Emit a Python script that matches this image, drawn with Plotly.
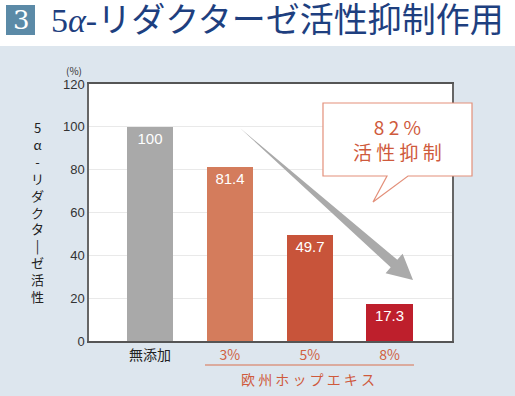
import plotly.graph_objects as go

categories = ["無添加", "3%", "5%", "8%"]
values = [100, 81.4, 49.7, 17.3]
value_labels = ["100", "81.4", "49.7", "17.3"]
bar_colors = ["#a9a9a9", "#d47c5c", "#c8543a", "#be1f2c"]
tick_colors = ["#222222", "#d0603f", "#d0603f", "#d0603f"]
y_ticks = [0, 20, 40, 60, 80, 100, 120]

W, H = 515, 396
ML, MR, MT, MB = 89, 63, 84, 55
PW, PH = W - ML - MR, H - MT - MB

def px(x):
    return (x - ML) / PW

def py(y):
    return (H - MB - y) / PH

BG = "#dde6ee"
ACC = "#cf5a3c"

xpos = list(range(len(categories)))
ticktext = [f"<span style='color:{c}'>{t}</span>" for t, c in zip(categories, tick_colors)]

fig = go.Figure()
fig.add_trace(go.Bar(
    x=xpos, y=values, width=0.58,
    marker=dict(color=bar_colors, line=dict(width=0)),
    text=value_labels, textposition="inside", insidetextanchor="end",
    textfont=dict(color="white", size=15, family="Liberation Sans, Noto Sans"),
    cliponaxis=False, hoverinfo="skip",
))

shapes = []
shapes.append(dict(type="rect", xref="paper", yref="paper", x0=px(0), x1=px(W), y0=py(46), y1=py(0),
                   fillcolor="white", line=dict(width=0), layer="below"))
shapes.append(dict(type="rect", xref="paper", yref="paper", x0=px(6), x1=px(35), y0=py(35), y1=py(5),
                   fillcolor="#5b8aa7", line=dict(width=0)))
pts = [(240, 128), (390.7, 267.3), (385.6, 273.3), (413, 280), (402.6, 253.7), (397.3, 259.8)]
path = "M " + " L ".join(f"{px(a):.4f},{py(b):.4f}" for a, b in pts) + " Z"
shapes.append(dict(type="path", xref="paper", yref="paper", path=path,
                   fillcolor="#aaaaaa", line=dict(width=0)))
cpts = [(323, 103), (472, 103), (472, 176), (408, 176), (373, 202), (387, 176), (323, 176)]
cpath = "M " + " L ".join(f"{px(a):.4f},{py(b):.4f}" for a, b in cpts) + " Z"
shapes.append(dict(type="path", xref="paper", yref="paper", path=cpath,
                   fillcolor="white", line=dict(color="#e3907a", width=1.2)))
shapes.append(dict(type="line", xref="paper", yref="paper", x0=px(205), x1=px(414), y0=py(365), y1=py(365),
                   line=dict(color="#d9704f", width=1.2)))

def note(x, y, text, font, xa="center", ya="middle"):
    return dict(x=px(x), y=py(y), xref="paper", yref="paper", text=text, showarrow=False,
                xanchor=xa, yanchor=ya, font=font)

ann = []
ann.append(note(21, 20, "3", dict(family="DejaVu Serif, Liberation Serif", size=26, color="white")))
ann.append(note(49, 21, "5<i>α</i>-リダクターゼ活性抑制作用",
                dict(family="Liberation Serif, Noto Sans CJK JP", size=34, color="#1e3f7f"), xa="left"))
ann.append(note(397, 139, "8 2 %<br>活 性 抑 制", dict(family="Noto Sans CJK JP", size=19, color=ACC)))
ann.append(note(74, 71, "(%)", dict(family="Noto Sans CJK JP", size=10, color="#333333")))
ylabel = "<br>".join(["5", "α", "-", "リ", "ダ", "ク", "タ", "|", "ゼ", "活", "性"])
ann.append(note(37, 212, ylabel, dict(family="Noto Sans CJK JP", size=13, color="#222222")))
ann.append(note(308, 379, "欧 州 ホ ッ プ エ キ ス", dict(family="Noto Sans CJK JP", size=14, color=ACC)))

fig.update_layout(
    width=W, height=H,
    margin=dict(l=ML, r=MR, t=MT, b=MB),
    paper_bgcolor=BG, plot_bgcolor="white",
    showlegend=False, bargap=0,
    shapes=shapes, annotations=ann,
    xaxis=dict(tickvals=xpos, ticktext=ticktext, range=[-0.7625, 3.78], showgrid=False,
               showline=True, linecolor="#555555", linewidth=1.5, mirror=True, ticks="",
               tickfont=dict(family="Noto Sans CJK JP", size=14), fixedrange=True),
    yaxis=dict(range=[0, 120], tickvals=y_ticks, showgrid=True, gridcolor="#e9e9e9", gridwidth=1,
               showline=True, linecolor="#666666", linewidth=1.5, mirror=True, ticks="",
               tickfont=dict(family="Liberation Sans, Noto Sans", size=13, color="#333333"),
               zeroline=False, fixedrange=True),
)
fig.write_html("out.html", config={"displayModeBar": False},
               post_script="document.body.style.margin='0';document.body.style.overflow='hidden';")
